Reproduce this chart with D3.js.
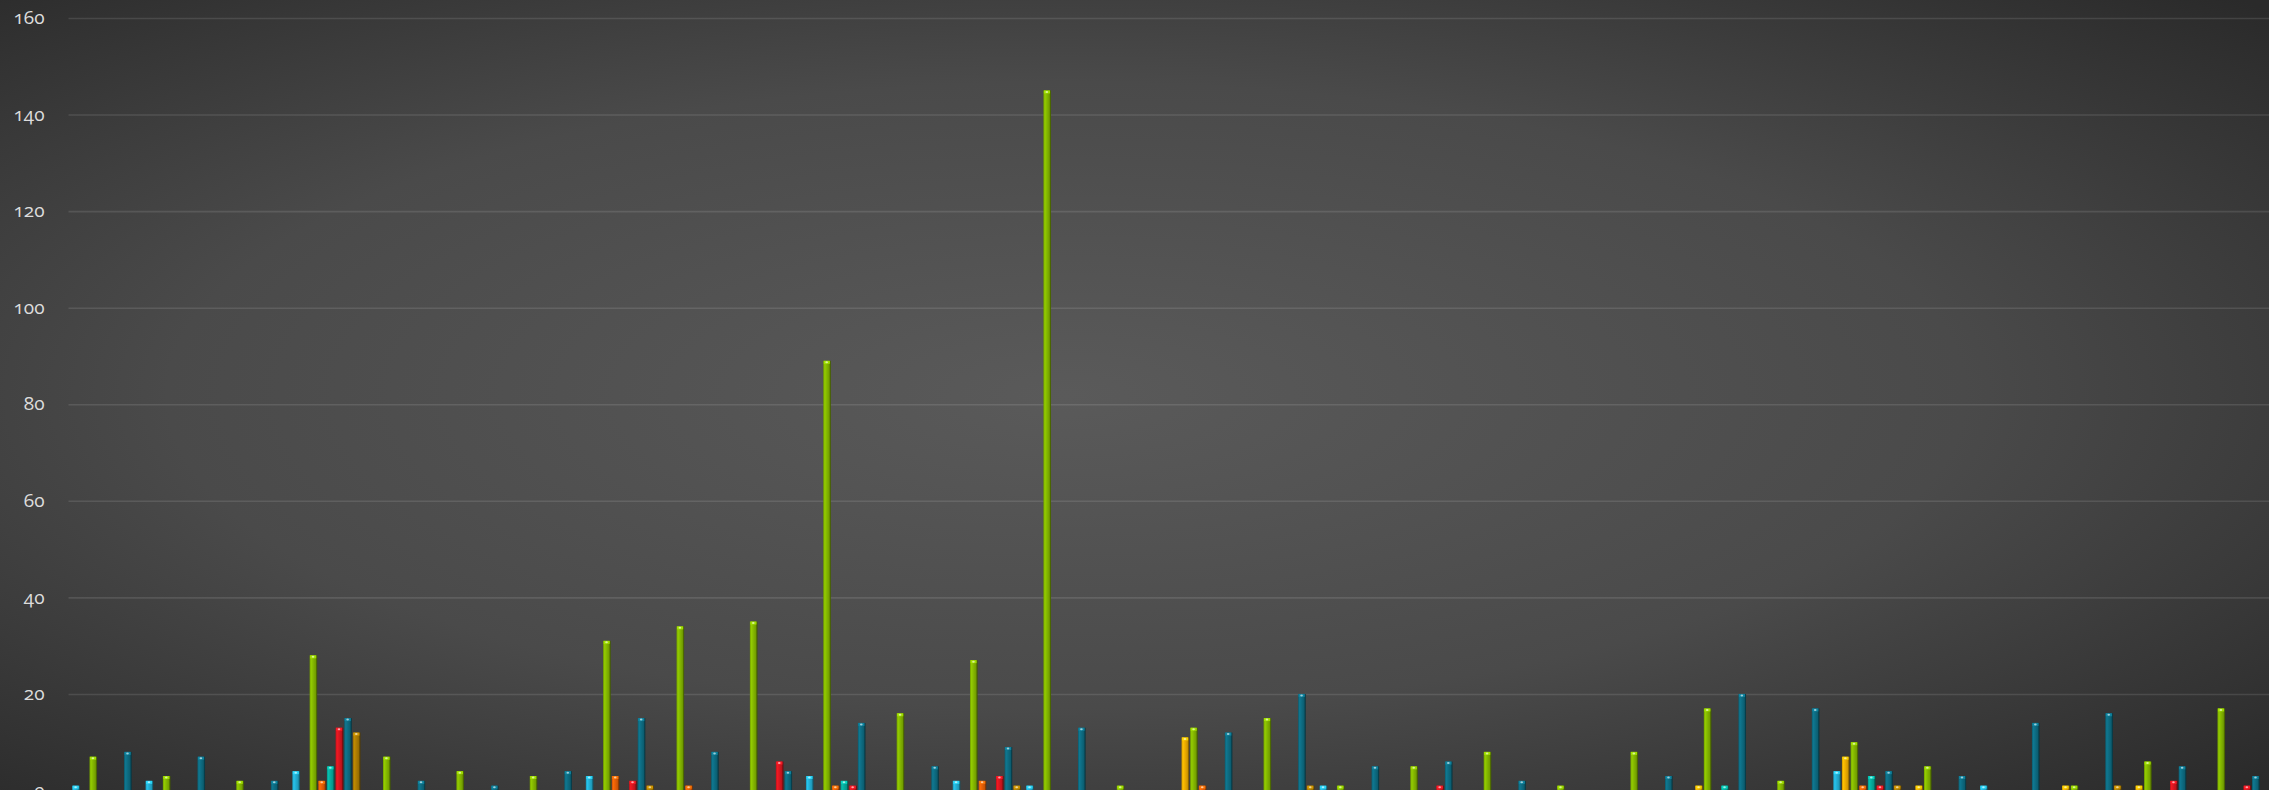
<!DOCTYPE html>
<html>
<head>
<meta charset="utf-8">
<script src="https://cdn.jsdelivr.net/npm/d3@7/dist/d3.min.js"></script>
<style>
  html, body { margin: 0; padding: 0; background: #2b2b2b; overflow: hidden; }
  .yaxis text { font-family: "Open Sans", Lato, sans-serif; font-feature-settings: "onum"; font-size: 19px; fill: #dcdcdc; }
</style>
</head>
<body>
<div id="chart"></div>
<script>
(function() {
    const width = 2269, height = 790;
    const margin = {left: 68.5, right: 0, top: 18, bottom: 0};

    // 30 days, 8 series per day
    const days = d3.range(1, 31);
    const seriesNames = ["s1", "s2", "s3", "s4", "s5", "s6", "s7", "s8"];
    const seriesColors = ["#22acd0", "#eaaa00", "#82b400", "#e35e06", "#06a99a", "#d4161f", "#0d6a80", "#a97a02"];

    const cyanVals   = [1,2,0,4,0,0,0,3,0,0,3,0,2,1,0,0,0,1,0,0,0,0,0,0,4,0,1,0,0,0];
    const yellowVals = [0,0,0,0,0,0,0,0,0,0,0,0,0,0,0,11,0,0,0,0,0,0,1,0,7,1,0,1,1,0];
    const greenVals  = [7,3,2,28,7,4,3,31,34,35,89,16,27,145,1,13,15,1,5,8,1,8,17,2,10,5,0,1,6,17];
    const orangeVals = [0,0,0,2,0,0,0,3,1,0,1,0,2,0,0,1,0,0,0,0,0,0,0,0,1,0,0,0,0,0];
    const tealVals   = [0,0,0,5,0,0,0,0,0,0,2,0,0,0,0,0,0,0,0,0,0,0,1,0,3,0,0,0,0,0];
    const redVals    = [0,0,0,13,0,0,0,2,0,6,1,0,3,0,0,0,0,0,1,0,0,0,0,0,1,0,0,0,2,1];
    const blueVals   = [8,7,2,15,2,1,4,15,8,4,14,5,9,13,0,12,20,5,6,2,0,3,20,17,4,3,14,16,5,3];
    const brownVals  = [0,0,0,12,0,0,0,1,0,0,0,0,1,0,0,0,1,0,0,0,0,0,0,0,1,0,0,1,0,0];

    const yTicks = [0, 20, 40, 60, 80, 100, 120, 140, 160];

    const seriesVals = [cyanVals, yellowVals, greenVals, orangeVals, tealVals, redVals, blueVals, brownVals];

    let data = [];
    days.forEach(function(d, i) {
        seriesNames.forEach(function(s, j) {
            data.push({day: d, series: s, idx: j, value: seriesVals[j][i]});
        });
    });

    let svg = d3.select("#chart")
        .append("svg")
        .attr("width", width)
        .attr("height", height);

    let defs = svg.append("defs");

    // background
    let bg = defs.append("radialGradient")
        .attr("id", "bg")
        .attr("cx", 0.47).attr("cy", 0.5).attr("r", 0.72);
    bg.append("stop").attr("offset", "0%").attr("stop-color", "#5a5a5a");
    bg.append("stop").attr("offset", "55%").attr("stop-color", "#4a4a4a");
    bg.append("stop").attr("offset", "100%").attr("stop-color", "#2a2a2a");

    svg.append("rect")
        .attr("width", width)
        .attr("height", height)
        .attr("fill", "url(#bg)");

    // cylinder-like gradients for the bars
    seriesColors.forEach(function(c, i) {
        let base = d3.color(c);
        let g = defs.append("linearGradient")
            .attr("id", "bar" + i)
            .attr("x1", 0).attr("x2", 1).attr("y1", 0).attr("y2", 0);
        g.append("stop").attr("offset", "0%").attr("stop-color", base.darker(0.4));
        g.append("stop").attr("offset", "20%").attr("stop-color", base.brighter(0.35));
        g.append("stop").attr("offset", "50%").attr("stop-color", base);
        g.append("stop").attr("offset", "78%").attr("stop-color", base.darker(0.35));
        g.append("stop").attr("offset", "88%").attr("stop-color", base.darker(1.3));
        g.append("stop").attr("offset", "100%").attr("stop-color", base.darker(2));
    });

    let x0 = d3.scaleBand()
        .domain(days)
        .range([margin.left, width + 3])
        .paddingInner(0.071)
        .paddingOuter(0.05);

    let x1 = d3.scaleBand()
        .domain(seriesNames)
        .range([0, x0.bandwidth()])
        .paddingInner(0.12)
        .paddingOuter(0);

    let y = d3.scaleLinear()
        .domain([0, 160])
        .range([790.5, margin.top]);

    // y axis with gridlines
    let yAxis = svg.append("g")
        .attr("class", "yaxis")
        .attr("transform", `translate(${margin.left}, 0)`)
        .call(d3.axisLeft(y).tickValues(yTicks).tickSize(-(width - margin.left)).tickPadding(24));
    yAxis.select(".domain").remove();
    yAxis.selectAll(".tick line")
        .attr("stroke", "#ffffff")
        .attr("stroke-opacity", 0.11)
        .attr("stroke-width", 1.6);
    yAxis.selectAll(".tick text").attr("dy", "0.3em");

    let bars = svg.append("g")
        .selectAll("g")
        .data(data.filter(function(d) { return d.value > 0; }))
        .join("g")
        .attr("transform", function(d) { return `translate(${x0(d.day) + x1(d.series)}, 0)`; });

    bars.append("rect")
        .attr("x", 0)
        .attr("y", function(d) { return y(d.value); })
        .attr("width", x1.bandwidth())
        .attr("height", function(d) { return y(0) - y(d.value); })
        .attr("fill", function(d) { return "url(#bar" + d.idx + ")"; });

    // top cap
    bars.append("rect")
        .attr("x", 0.5)
        .attr("y", function(d) { return y(d.value); })
        .attr("width", x1.bandwidth() - 1.5)
        .attr("height", 3)
        .attr("fill", function(d) { return d3.color(seriesColors[d.idx]).brighter(0.7); })
        .attr("opacity", 0.85);

    bars.append("ellipse")
        .attr("cx", x1.bandwidth() * 0.45)
        .attr("cy", function(d) { return y(d.value) + 1.5; })
        .attr("rx", 1.3)
        .attr("ry", 1)
        .attr("fill", "#ffffff")
        .attr("opacity", 0.6);

})();
</script>
</body>
</html>
